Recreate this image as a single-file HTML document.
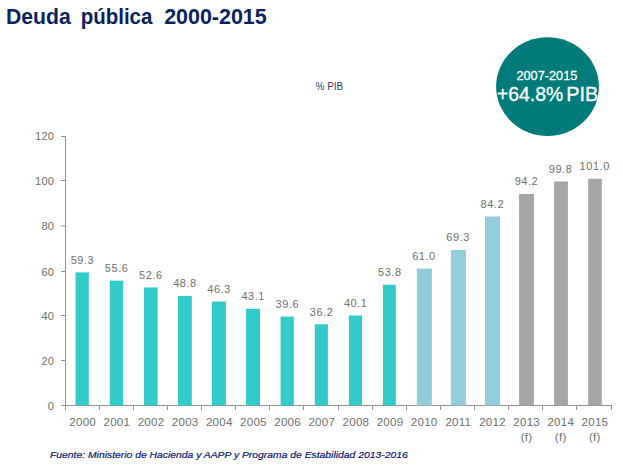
<!DOCTYPE html>
<html><head><meta charset="utf-8"><style>
html,body{margin:0;padding:0;background:#fff;}
body{width:623px;height:465px;overflow:hidden;position:relative;font-family:"Liberation Sans",sans-serif;}
svg{position:absolute;left:0;top:0;}
text{font-family:"Liberation Sans",sans-serif;}
</style></head><body>
<svg width="623" height="465" viewBox="0 0 623 465">
<rect width="623" height="465" fill="#fff"/>
<g font-size="21.33" font-weight="bold" fill="#0c1f5e">
<text transform="translate(6,23.5) scale(0.995,1)">Deuda</text>
<text transform="translate(80.7,23.5) scale(0.96,1)">pública</text>
<text transform="translate(164.2,23.5) scale(1.005,1)">2000-2015</text>
</g>
<text x="315.5" y="89.7" font-size="10" fill="#3a3a6a">% PIB</text>
<ellipse cx="547.5" cy="86.6" rx="51.4" ry="49.4" fill="#007b7b"/>
<g fill="#fff" stroke="#fff" stroke-width="0.3">
<text transform="translate(546.9,80) scale(0.93,1)" font-size="13.7" text-anchor="middle">2007-2015</text>
<text transform="translate(496.9,101) scale(1.006,1)" font-size="19.3">+64.8%</text>
<text transform="translate(598.3,101) scale(1.033,1)" font-size="19.3" text-anchor="end">PIB</text>
</g>

<g stroke="#949494" stroke-width="1" fill="none">
<line x1="65.5" y1="136" x2="65.5" y2="410"/>
<line x1="61" y1="405.5" x2="612" y2="405.5"/>
<line x1="61" y1="360.5" x2="65.5" y2="360.5"/>
<line x1="61" y1="315.5" x2="65.5" y2="315.5"/>
<line x1="61" y1="271.5" x2="65.5" y2="271.5"/>
<line x1="61" y1="226.0" x2="65.5" y2="226.0"/>
<line x1="61" y1="180.5" x2="65.5" y2="180.5"/>
<line x1="61" y1="136.5" x2="65.5" y2="136.5"/>
<line x1="99.50" y1="405.5" x2="99.50" y2="410"/>
<line x1="133.50" y1="405.5" x2="133.50" y2="410"/>
<line x1="167.50" y1="405.5" x2="167.50" y2="410"/>
<line x1="201.50" y1="405.5" x2="201.50" y2="410"/>
<line x1="235.50" y1="405.5" x2="235.50" y2="410"/>
<line x1="269.50" y1="405.5" x2="269.50" y2="410"/>
<line x1="303.50" y1="405.5" x2="303.50" y2="410"/>
<line x1="338.50" y1="405.5" x2="338.50" y2="410"/>
<line x1="372.50" y1="405.5" x2="372.50" y2="410"/>
<line x1="406.50" y1="405.5" x2="406.50" y2="410"/>
<line x1="440.50" y1="405.5" x2="440.50" y2="410"/>
<line x1="474.50" y1="405.5" x2="474.50" y2="410"/>
<line x1="508.50" y1="405.5" x2="508.50" y2="410"/>
<line x1="542.50" y1="405.5" x2="542.50" y2="410"/>
<line x1="576.50" y1="405.5" x2="576.50" y2="410"/>
<line x1="611.50" y1="405.5" x2="611.50" y2="410"/>
</g>
<g font-size="10.0" fill="#707070" letter-spacing="0.2">
<text transform="translate(54.20,409.50) scale(1.11,1)" text-anchor="end">0</text>
<text transform="translate(54.20,364.50) scale(1.11,1)" text-anchor="end">20</text>
<text transform="translate(54.20,319.50) scale(1.11,1)" text-anchor="end">40</text>
<text transform="translate(54.20,275.50) scale(1.11,1)" text-anchor="end">60</text>
<text transform="translate(54.20,230.00) scale(1.11,1)" text-anchor="end">80</text>
<text transform="translate(54.20,184.50) scale(1.11,1)" text-anchor="end">100</text>
<text transform="translate(54.20,139.80) scale(1.11,1)" text-anchor="end">120</text>
<rect x="75.50" y="272.37" width="13.30" height="133.13" fill="#33cacb"/>
<text transform="translate(82.48,263.77) scale(1.1,1)" text-anchor="middle" letter-spacing="0.5">59.3</text>
<text transform="translate(82.67,425.50) scale(1.16,1)" text-anchor="middle">2000</text>
<rect x="109.80" y="280.68" width="13.20" height="124.82" fill="#33cacb"/>
<text transform="translate(116.62,272.08) scale(1.1,1)" text-anchor="middle" letter-spacing="0.5">55.6</text>
<text transform="translate(116.82,425.50) scale(1.16,1)" text-anchor="middle">2001</text>
<rect x="143.90" y="287.41" width="13.70" height="118.09" fill="#33cacb"/>
<text transform="translate(150.78,278.81) scale(1.1,1)" text-anchor="middle" letter-spacing="0.5">52.6</text>
<text transform="translate(150.97,425.50) scale(1.16,1)" text-anchor="middle">2002</text>
<rect x="177.90" y="295.94" width="13.90" height="109.56" fill="#33cacb"/>
<text transform="translate(184.92,287.34) scale(1.1,1)" text-anchor="middle" letter-spacing="0.5">48.8</text>
<text transform="translate(185.12,425.50) scale(1.16,1)" text-anchor="middle">2003</text>
<rect x="212.00" y="301.56" width="13.90" height="103.94" fill="#33cacb"/>
<text transform="translate(219.07,292.96) scale(1.1,1)" text-anchor="middle" letter-spacing="0.5">46.3</text>
<text transform="translate(219.27,425.50) scale(1.16,1)" text-anchor="middle">2004</text>
<rect x="245.90" y="308.74" width="14.10" height="96.76" fill="#33cacb"/>
<text transform="translate(253.22,300.14) scale(1.1,1)" text-anchor="middle" letter-spacing="0.5">43.1</text>
<text transform="translate(253.42,425.50) scale(1.16,1)" text-anchor="middle">2005</text>
<rect x="280.60" y="316.60" width="13.20" height="88.90" fill="#33cacb"/>
<text transform="translate(287.38,308.00) scale(1.1,1)" text-anchor="middle" letter-spacing="0.5">39.6</text>
<text transform="translate(287.58,425.50) scale(1.16,1)" text-anchor="middle">2006</text>
<rect x="314.80" y="324.23" width="13.10" height="81.27" fill="#33cacb"/>
<text transform="translate(321.52,315.63) scale(1.1,1)" text-anchor="middle" letter-spacing="0.5">36.2</text>
<text transform="translate(321.73,425.50) scale(1.16,1)" text-anchor="middle">2007</text>
<rect x="348.90" y="315.48" width="13.10" height="90.02" fill="#33cacb"/>
<text transform="translate(355.67,306.88) scale(1.1,1)" text-anchor="middle" letter-spacing="0.5">40.1</text>
<text transform="translate(355.88,425.50) scale(1.16,1)" text-anchor="middle">2008</text>
<rect x="382.90" y="284.72" width="12.90" height="120.78" fill="#33cacb"/>
<text transform="translate(389.82,276.12) scale(1.1,1)" text-anchor="middle" letter-spacing="0.5">53.8</text>
<text transform="translate(390.03,425.50) scale(1.16,1)" text-anchor="middle">2009</text>
<rect x="416.80" y="268.56" width="15.00" height="136.94" fill="#92cddc"/>
<text transform="translate(423.97,259.95) scale(1.1,1)" text-anchor="middle" letter-spacing="0.5">61.0</text>
<text transform="translate(424.18,425.50) scale(1.16,1)" text-anchor="middle">2010</text>
<rect x="450.90" y="249.92" width="15.00" height="155.58" fill="#92cddc"/>
<text transform="translate(458.12,241.32) scale(1.1,1)" text-anchor="middle" letter-spacing="0.5">69.3</text>
<text transform="translate(458.32,425.50) scale(1.16,1)" text-anchor="middle">2011</text>
<rect x="485.00" y="216.47" width="15.00" height="189.03" fill="#92cddc"/>
<text transform="translate(492.27,207.87) scale(1.1,1)" text-anchor="middle" letter-spacing="0.5">84.2</text>
<text transform="translate(492.48,425.50) scale(1.16,1)" text-anchor="middle">2012</text>
<rect x="519.10" y="194.02" width="14.80" height="211.48" fill="#a6a6a6"/>
<text transform="translate(526.42,185.42) scale(1.1,1)" text-anchor="middle" letter-spacing="0.5">94.2</text>
<text transform="translate(526.62,425.50) scale(1.16,1)" text-anchor="middle">2013</text>
<text transform="translate(526.52,441.00) scale(1.16,1)" text-anchor="middle">(f)</text>
<rect x="554.10" y="181.45" width="13.80" height="224.05" fill="#a6a6a6"/>
<text transform="translate(560.57,172.85) scale(1.1,1)" text-anchor="middle" letter-spacing="0.5">99.8</text>
<text transform="translate(560.77,425.50) scale(1.16,1)" text-anchor="middle">2014</text>
<text transform="translate(560.67,441.00) scale(1.16,1)" text-anchor="middle">(f)</text>
<rect x="588.20" y="178.75" width="13.60" height="226.75" fill="#a6a6a6"/>
<text transform="translate(594.72,170.16) scale(1.1,1)" text-anchor="middle" letter-spacing="0.5">101.0</text>
<text transform="translate(594.92,425.50) scale(1.16,1)" text-anchor="middle">2015</text>
<text transform="translate(594.82,441.00) scale(1.16,1)" text-anchor="middle">(f)</text>
</g>
<text transform="translate(50,457.9) scale(1.046,1)" font-size="9.9" font-style="italic" fill="#0b1570" stroke="#0b1570" stroke-width="0.2">Fuente: Ministerio de Hacienda y AAPP y Programa de Estabilidad 2013-2016</text>
</svg></body></html>
